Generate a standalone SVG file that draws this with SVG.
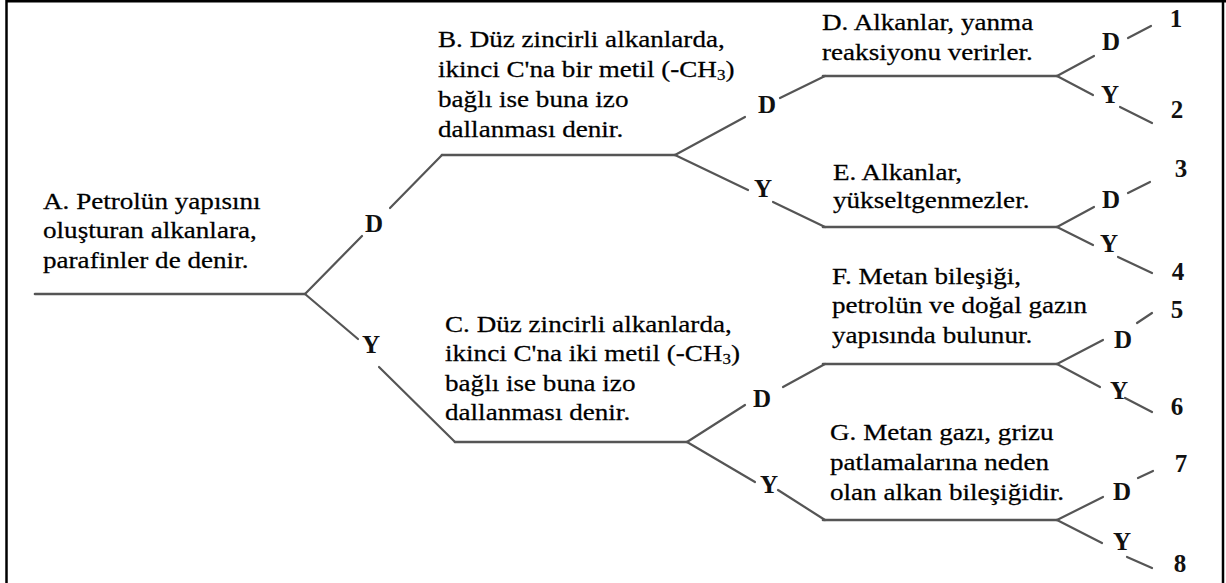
<svg xmlns="http://www.w3.org/2000/svg" width="1226" height="583" viewBox="0 0 1226 583">
<style>
text{font-family:"Liberation Serif","Times New Roman",serif}
.t{font-size:24px;fill:#000;stroke:#000;stroke-width:0.25}
.sub{font-size:15px}
.lb{font-size:25px;font-weight:bold;fill:#111;text-anchor:middle}
.n{font-size:25px;font-weight:bold;fill:#111;text-anchor:middle}
.c line{stroke:#555;stroke-width:2.2;stroke-linecap:round}
.c line.h{stroke-width:2.6}
</style>
<rect x="0" y="0" width="1226" height="583" fill="#fff"/>
<g id="frame" stroke="#000" stroke-width="2.5">
<line x1="7" y1="1.2" x2="1226" y2="1.2"/>
<line x1="6.5" y1="0" x2="6.5" y2="583"/>
<line x1="1223" y1="0" x2="1223" y2="583"/>
</g>
<g id="connectors" class="c">
<line class="h" x1="35" y1="294" x2="305" y2="294"/>
<line x1="305" y1="294" x2="362" y2="236"/>
<line x1="390" y1="208" x2="442" y2="155"/>
<line x1="305" y1="294" x2="358" y2="339"/>
<line x1="379" y1="367" x2="455" y2="442"/>
<line class="h" x1="442" y1="155" x2="675" y2="155"/>
<line x1="675" y1="155" x2="745" y2="117"/>
<line x1="780" y1="98" x2="825" y2="76"/>
<line x1="675" y1="155" x2="748" y2="190"/>
<line x1="773" y1="202" x2="825" y2="227"/>
<line class="h" x1="823" y1="76" x2="1057" y2="76"/>
<line class="h" x1="823" y1="227" x2="1057" y2="227"/>
<line class="h" x1="455" y1="442" x2="687" y2="442"/>
<line x1="687" y1="442" x2="745" y2="405"/>
<line x1="783" y1="387" x2="825" y2="364"/>
<line x1="687" y1="442" x2="755" y2="482"/>
<line x1="778" y1="490" x2="825" y2="520"/>
<line class="h" x1="823" y1="364" x2="1057" y2="364"/>
<line class="h" x1="823" y1="520" x2="1057" y2="520"/>
<line x1="1057" y1="76" x2="1094" y2="56"/>
<line x1="1128" y1="38" x2="1151" y2="26"/>
<line x1="1057" y1="76" x2="1093" y2="95"/>
<line x1="1120" y1="107" x2="1152" y2="123"/>
<line x1="1057" y1="227" x2="1094" y2="207"/>
<line x1="1128" y1="193" x2="1150" y2="182"/>
<line x1="1057" y1="227" x2="1093" y2="245"/>
<line x1="1118" y1="257" x2="1152" y2="273"/>
<line x1="1057" y1="364" x2="1103" y2="340"/>
<line x1="1137" y1="323" x2="1152" y2="313"/>
<line x1="1057" y1="364" x2="1100" y2="387"/>
<line x1="1125" y1="398" x2="1152" y2="412"/>
<line x1="1057" y1="520" x2="1103" y2="497"/>
<line x1="1138" y1="478" x2="1153" y2="471"/>
<line x1="1057" y1="520" x2="1102" y2="543"/>
<line x1="1127" y1="557" x2="1152" y2="568"/>
</g>
<g id="edge-labels">
<text class="lb" x="374" y="232">D</text>
<text class="lb" x="371" y="353">Y</text>
<text class="lb" x="767" y="113">D</text>
<text class="lb" x="763" y="197">Y</text>
<text class="lb" x="762" y="407">D</text>
<text class="lb" x="769" y="493">Y</text>
<text class="lb" x="1111" y="50">D</text>
<text class="lb" x="1110" y="103">Y</text>
<text class="lb" x="1111" y="208">D</text>
<text class="lb" x="1109" y="252">Y</text>
<text class="lb" x="1123" y="348">D</text>
<text class="lb" x="1119" y="399">Y</text>
<text class="lb" x="1122" y="500">D</text>
<text class="lb" x="1122" y="550">Y</text>
</g>
<g id="nodeA"><text class="t" transform="matrix(1.13,0,0,1,43,209)"><tspan x="0" y="0">A. Petrolün yapısını</tspan><tspan x="0" y="29.5">oluşturan alkanlara,</tspan><tspan x="0" y="59">parafinler de denir.</tspan></text></g>
<g id="nodeB"><text class="t" transform="matrix(1.13,0,0,1,438,47)"><tspan x="0" y="0">B. Düz zincirli alkanlarda,</tspan><tspan x="0" y="30">ikinci C'na bir metil (-CH<tspan class="sub" dy="3">3</tspan><tspan dy="-3">)</tspan></tspan><tspan x="0" y="60">bağlı ise buna izo</tspan><tspan x="0" y="90">dallanması denir.</tspan></text></g>
<g id="nodeC"><text class="t" transform="matrix(1.13,0,0,1,445,332)"><tspan x="0" y="0">C. Düz zincirli alkanlarda,</tspan><tspan x="0" y="29.5">ikinci C'na iki metil (-CH<tspan class="sub" dy="3">3</tspan><tspan dy="-3">)</tspan></tspan><tspan x="0" y="59">bağlı ise buna izo</tspan><tspan x="0" y="88.5">dallanması denir.</tspan></text></g>
<g id="nodeD"><text class="t" transform="matrix(1.13,0,0,1,822,30)"><tspan x="0" y="0">D. Alkanlar, yanma</tspan><tspan x="0" y="30">reaksiyonu verirler.</tspan></text></g>
<g id="nodeE"><text class="t" transform="matrix(1.13,0,0,1,833,180)"><tspan x="0" y="0">E. Alkanlar,</tspan><tspan x="0" y="28">yükseltgenmezler.</tspan></text></g>
<g id="nodeF"><text class="t" transform="matrix(1.13,0,0,1,832,284)"><tspan x="0" y="0">F. Metan bileşiği,</tspan><tspan x="0" y="29.5">petrolün ve doğal gazın</tspan><tspan x="0" y="59">yapısında bulunur.</tspan></text></g>
<g id="nodeG"><text class="t" transform="matrix(1.13,0,0,1,830,440)"><tspan x="0" y="0">G. Metan gazı, grizu</tspan><tspan x="0" y="30">patlamalarına neden</tspan><tspan x="0" y="60">olan alkan bileşiğidir.</tspan></text></g>
<g id="leaf1"><text class="n" x="1176" y="27">1</text></g>
<g id="leaf2"><text class="n" x="1177" y="118">2</text></g>
<g id="leaf3"><text class="n" x="1181" y="177">3</text></g>
<g id="leaf4"><text class="n" x="1178" y="280">4</text></g>
<g id="leaf5"><text class="n" x="1177" y="318">5</text></g>
<g id="leaf6"><text class="n" x="1177" y="415">6</text></g>
<g id="leaf7"><text class="n" x="1181" y="472" font-weight="normal">7</text></g>
<g id="leaf8"><text class="n" x="1180" y="572">8</text></g>
</svg>
